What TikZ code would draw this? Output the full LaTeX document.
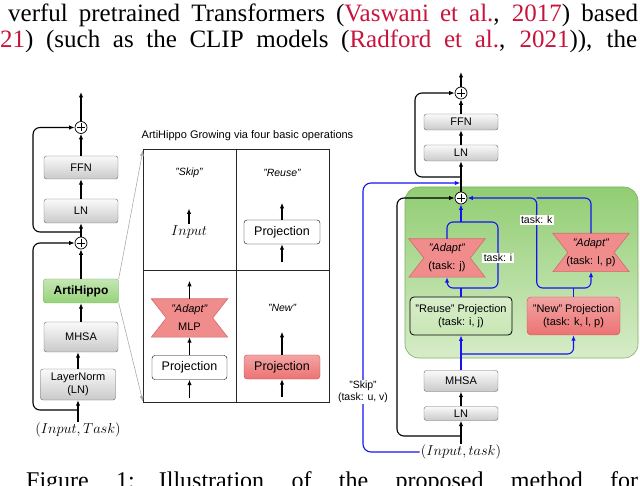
\documentclass[tikz,border=0pt]{standalone}
\usepackage{fontspec}
\setmainfont{Liberation Serif}
\setsansfont{Liberation Sans}
\usetikzlibrary{arrows.meta,calc}

\definecolor{citered}{RGB}{200,20,60}
\definecolor{boxedge}{RGB}{105,105,105}
\definecolor{hippogreen}{RGB}{150,210,120}
\definecolor{hippoedge}{RGB}{115,180,95}
\definecolor{zonegreen}{RGB}{145,205,115}
\definecolor{zonelight}{RGB}{215,236,200}
\definecolor{reusegreen}{RGB}{200,230,180}
\definecolor{projred}{RGB}{236,115,115}
\definecolor{projedge}{RGB}{205,80,80}
\definecolor{adaptpink}{RGB}{240,140,140}
\definecolor{flowblue}{RGB}{20,20,240}

\tikzset{
	papertext/.style = {inner sep=0pt, font=\fontsize{25}{30}\selectfont},
	graybox/.style = {draw=boxedge, rounded corners=2.5pt, top color=gray!4, bottom color=gray!42,
		minimum width=74, inner sep=0pt, align=center, font=\sffamily\fontsize{11}{12.5}\selectfont},
	hippobox/.style = {draw=hippoedge, rounded corners=2.5pt, top color=hippogreen!55, bottom color=hippogreen,
		minimum width=75, minimum height=24, inner sep=0pt, font=\sffamily\bfseries\fontsize{12}{13}\selectfont},
	projbox/.style = {draw, rounded corners=3pt, fill=white, minimum width=76, minimum height=24,
		inner sep=0pt, align=center, font=\sffamily\fontsize{12.5}{14}\selectfont},
	redproj/.style = {projbox, draw=projedge, top color=projred!65, bottom color=projred},
	zonebox/.style = {rounded corners=4pt, minimum height=38, inner sep=0pt, align=center,
		font=\sffamily\fontsize{11}{13.5}\selectfont},
	adaptbox/.style = {minimum width=76, minimum height=38, inner sep=0pt},
	adaptfill/.style = {draw=projedge!85, line width=0.6pt, top color=adaptpink, middle color=adaptpink!40, bottom color=adaptpink},
	adapttext/.style = {align=center, inner sep=0pt, font=\sffamily\fontsize{11}{18}\selectfont},
	pluscirc/.style = {circle, draw, fill=white, minimum size=12, inner sep=0pt, line width=0.7pt,
		path picture={\draw[line width=0.7pt] (path picture bounding box.center) +(-4,0) -- +(4,0) +(0,-4) -- +(0,4);}},
	arr/.style = {-{Latex[length=5.5pt,width=4.5pt]}, line width=1.1pt},
	barr/.style = {arr, draw=flowblue},
	bline/.style = {line width=1.1pt, draw=flowblue},
	zoomline/.style = {draw=gray!65, line width=0.6pt, -{Latex[length=6pt,width=4pt]}},
	tasklabel/.style = {fill=white, inner sep=1.5pt, align=center, font=\sffamily\fontsize{10.5}{12}\selectfont},
	cellnote/.style = {font=\sffamily\itshape\fontsize{10.5}{12}\selectfont},
	mathtext/.style = {inner sep=1pt, font=\fontsize{15}{17}\selectfont}
}

% name, position, text
\newcommand{\adaptnode}[3]{%
	\node[adaptbox] (#1) at #2 {};
	\draw[adaptfill] (#1.north west) -- (#1.north east) -- ([xshift=-15pt]#1.east) -- (#1.south east)
		-- (#1.south west) -- ([xshift=15pt]#1.west) -- cycle;
	\node[adapttext] at (#1) {#3};
}

\begin{document}
\begin{tikzpicture}[x=1pt, y=-1pt]
	\useasboundingbox (0,0) rectangle (640,486);

	% paper text around the figure
	\node[papertext, anchor=base west] (ptxtA) at (8,22)
		{\makebox[630pt][s]{verful pretrained Transformers (\textcolor{citered}{Vaswani et al.}, \textcolor{citered}{2017}) based}};
	\node[papertext, anchor=base west] (ptxtB) at (0,48)
		{\makebox[637pt][s]{\textcolor{citered}{21}) (such as the CLIP models (\textcolor{citered}{Radford et al.}, \textcolor{citered}{2021})), the}};
	\node[papertext, anchor=base west, font=\fontsize{24}{28}\selectfont] (pcap) at (26,488)
		{\makebox[612pt][s]{Figure 1:\quad Illustration of the proposed method for}};

	% left: transformer block
	\node[pluscirc] (lplusA) at (81,127.5) {};
	\node[graybox, minimum height=23] (lffn) at (81,167.5) {FFN};
	\node[graybox, minimum height=24] (lln) at (81,211) {LN};
	\node[pluscirc] (lplusB) at (81,243) {};
	\node[hippobox] (lhippo) at (81,291) {ArtiHippo};
	\node[graybox, minimum height=30] (lmhsa) at (81,337) {MHSA};
	\node[graybox, minimum height=31, minimum width=75] (llayer) at (78,384.5) {LayerNorm\\(LN)};
	\node[mathtext] (linput) at (78,430) {$(Input, Task)$};
	\coordinate (ltop) at (81,92);
	\coordinate (ltapA) at (81,232);
	\coordinate (ltapB) at (78,410);
	\coordinate (lloopA) at (33,180);
	\coordinate (lloopB) at (33,330);

	\draw[arr] (linput.north) -- (llayer.south);
	\draw[arr] (llayer.north) -- (llayer.north |- lmhsa.south);
	\draw[arr] (lmhsa) -- (lhippo);
	\draw[arr] (lhippo) -- (lplusB);
	\draw[arr] (lplusB) -- (lln);
	\draw[arr] (lln) -- (lffn);
	\draw[arr] (lffn) -- (lplusA);
	\draw[arr] (lplusA) -- (ltop);
	\draw[arr, rounded corners=7] (ltapA) -| (lloopA) |- (lplusA.west);
	\draw[arr, rounded corners=7] (ltapB) -| (lloopB) |- (lplusB.west);

	% middle: the four operations
	\node[font=\sffamily\fontsize{11}{12}\selectfont] (gtitle) at (247.5,136) {ArtiHippo Growing via four basic operations};
	\coordinate (gNW) at (143,150);
	\coordinate (gSE) at (329,402);
	\coordinate (gC) at (236,271);
	\draw[line width=1pt, draw=black!85] (gNW) rectangle (gSE)
		(gC |- gNW) -- (gC |- gSE)
		(gC -| gNW) -- (gC -| gSE);
	\draw[zoomline] (lhippo.north east) -- (gNW);
	\draw[zoomline] (lhippo.south east) -- (gNW |- gSE);

	\node[cellnote] (gskip) at (189,173) {"Skip"};
	\node[mathtext] (ginput) at (189,232) {$Input$};
	\draw[arr] (ginput.north) -- ++(0,-16);

	\node[cellnote] (greuse) at (282,173) {"Reuse"};
	\node[projbox] (gproj1) at (282,232) {Projection};
	\draw[arr] ([yshift=-18pt]gproj1.south) -- (gproj1.south);
	\draw[arr] (gproj1.north) -- ++(0,-17);

	\adaptnode{gadapt}{(189.5,318)}{\textit{"Adapt"}\\MLP}
	\node[projbox, minimum width=75] (gproj2) at (189.5,367.5) {Projection};
	\draw[arr] ([yshift=-18pt]gproj2.south) -- (gproj2.south);
	\draw[arr] (gproj2.north) -- (gadapt.south);
	\draw[arr] (gadapt.north) -- ++(0,-18);

	\node[cellnote] (gnew) at (282,308) {"New"};
	\node[redproj] (gproj3) at (282,367) {Projection};
	\draw[arr] ([yshift=-18pt]gproj3.south) -- (gproj3.south);
	\draw[arr] (gproj3.north) -- ++(0,-23);

	% right: grown block
	\draw[rounded corners=14, draw=zonegreen!85!black, line width=0.6pt, top color=zonegreen, bottom color=zonelight]
		(405,187) rectangle (638,358);

	\node[pluscirc] (rplusA) at (461,93) {};
	\node[graybox, minimum height=16] (rffn) at (461,122) {FFN};
	\node[graybox, minimum height=16] (rln) at (461,153) {LN};
	\node[pluscirc] (rplusB) at (461,198) {};
	\adaptnode{radapt}{(447,258)}{\textit{"Adapt"}\\(task: j)}
	\adaptnode{radaptB}{(591,252.5)}{\textit{"Adapt"}\\(task: l, p)}
	\node[zonebox, draw, line width=0.8pt, top color=reusegreen!70, bottom color=reusegreen, minimum width=102] (rreuse) at (461,316) {"Reuse" Projection\\(task: i, j)};
	\node[zonebox, draw=projedge, top color=projred!65, bottom color=projred, minimum width=93] (rnew) at (573.5,316) {"New" Projection\\(task: k, l, p)};
	\node[graybox, minimum height=21] (rmhsa) at (461,381) {MHSA};
	\node[graybox, minimum height=14] (rln2) at (461,413.5) {LN};
	\node[mathtext] (rinput) at (461,452) {$(Input, task)$};

	\coordinate (rtop) at (461,72);
	\coordinate (rtapT) at (461,177);
	\coordinate (rloopT) at (415,130);
	\coordinate (rtapS) at (460.4,183);
	\coordinate (rskip) at (363,392);
	\coordinate (rtapL) at (461,436);
	\coordinate (rloop) at (397,300);
	\coordinate (rsplitM) at (461,354);
	\coordinate (rsplitA) at (461,288);
	\coordinate (rmerge) at (461,222);
	\coordinate (rtapi) at (498,258);
	\coordinate (rsplitB) at (573.5,288);
	\coordinate (rtapk) at (536.7,220);

	% black path
	\draw[arr] (rinput.north) -- (rln2.south);
	\draw[arr] (rln2) -- (rmhsa);
	\draw[arr] (rplusB) -- (rln);
	\draw[arr] (rln) -- (rffn);
	\draw[arr] (rffn) -- (rplusA);
	\draw[arr] (rplusA) -- (rtop);
	\draw[arr, rounded corners=7] (rtapT) -| (rloopT) |- (rplusA.west);
	\draw[arr, rounded corners=7] (rtapL) -| (rloop) |- (rplusB.west);

	% blue paths
	\draw[barr, rounded corners=8] (rinput.west) -| (rskip) |- (rtapS);
	\draw[barr] (rmhsa.north) -- (rreuse.south);
	\draw[barr, rounded corners=6] (rsplitM) -| (rnew.south);
	\draw[bline] (rreuse.north) -- (rsplitA);
	\draw[barr, rounded corners=6] (rsplitA) -| (radapt.south);
	\draw[bline, rounded corners=6] (rsplitA) -| (rtapi) |- (rmerge);
	\draw[bline, rounded corners=6] (radapt.north) |- (rmerge);
	\draw[barr] (rmerge) -- (rplusB.south);
	\draw[bline] (rnew.north) -- (rsplitB);
	\draw[barr, rounded corners=6] (rsplitB) -| (radaptB.south);
	\draw[bline, rounded corners=6] (radaptB.north) |- (rtapk |- rplusB);
	\draw[barr, rounded corners=6] (rsplitB) -| (rtapk) |- (rplusB.east);

	\node[tasklabel] (rlabi) at (rtapi) {task: i};
	\node[tasklabel] (rlabk) at (rtapk) {task: k};
	\node[tasklabel] (rlabs) at (rskip) {"Skip"\\(task: u, v)};
\end{tikzpicture}
\end{document}
